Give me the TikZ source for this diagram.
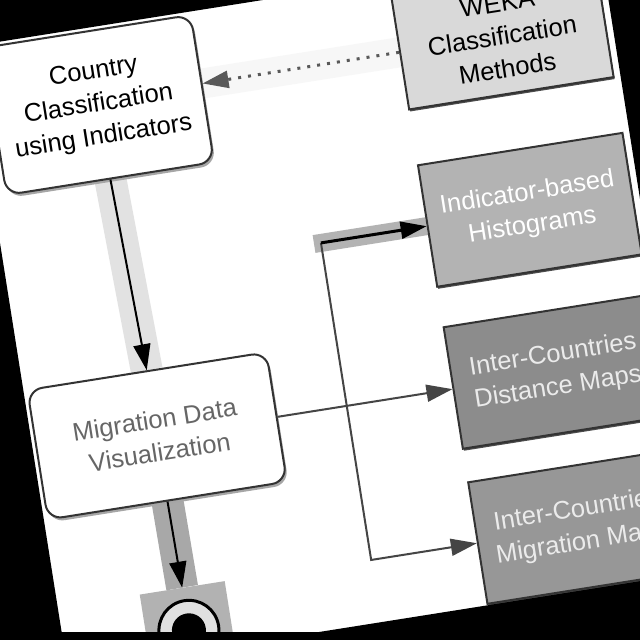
\documentclass[tikz,border=0pt]{standalone}
\usepackage{fontspec}
\setmainfont{Liberation Sans}
\usetikzlibrary{arrows.meta, calc, backgrounds, shadows}
\definecolor{boxline}{HTML}{333333}
\definecolor{flowgray}{HTML}{454545}
\definecolor{wekagray}{HTML}{D9D9D9}
\definecolor{histgray}{HTML}{B3B3B3}
\definecolor{distgray}{HTML}{8C8C8C}
\definecolor{mapgray}{HTML}{979797}
\definecolor{bandlight}{HTML}{E2E2E2}
\definecolor{banddark}{HTML}{A8A8A8}

\begin{document}
\begin{tikzpicture}[x=1pt, y=-1pt, font=\fontsize{25.5}{33}\selectfont,
    >={Triangle[length=26pt, width=17pt]},
    sbox/.style={rectangle, rounded corners=15pt, draw=boxline, line width=2pt,
      fill=white, align=center,
      drop shadow={shadow xshift=2pt, shadow yshift=-3pt, fill=black!35, opacity=1}},
    rbox/.style={rectangle, draw=boxline, line width=2pt, align=center,
      minimum width=207pt, minimum height=123pt,
      drop shadow={shadow xshift=1pt, shadow yshift=-2pt, fill=black!70, opacity=1}},
    flow/.style={line width=2pt, draw=flowgray},
    mainflow/.style={line width=2pt, draw=black},
    hiflow/.style={line width=3pt, draw=black},
    dotflow/.style={line width=3pt, draw=black!65, dash pattern=on 3pt off 7pt},
  ]
  \useasboundingbox (0,0) rectangle (640,640);
  \clip (0,0) rectangle (640,640);

  \begin{scope}[rotate around={9:(320,320)}, transform shape]
    \node[sbox, minimum width=210pt, minimum height=149pt] (cls) at (135,73)
      {Country\\Classification\\using Indicators};
    \node[sbox, minimum width=242pt, minimum height=131pt, text=black!60] (viz) at (141,409)
      {Migration Data\\Visualization};

    \node[rbox, fill=wekagray, minimum height=116pt] (weka) at (544.5,68) {WEKA\\Classification\\Methods};
    \node[rbox, fill=histgray, text=white] (hist) at (544.5,244) {Indicator-based\\Histograms};
    \node[rbox, fill=distgray, text=white!92!black] (dist) at (544.5,408) {Inter-Countries\\Distance Maps};
    \node[rbox, fill=mapgray, text=white!92!black] (mmap) at (544.5,565) {Inter-Countries\\Migration Maps};

    % final node
    \node[rectangle, fill=black!30, minimum size=86pt, inner sep=0pt] (endsq) at (142,606) {};
    \node[circle, draw=black, line width=3pt, fill=black!12, minimum size=60pt, inner sep=0pt] (endring) at (endsq.center) {};
    \node[circle, fill=black, minimum size=34pt, inner sep=0pt] (enddot) at (endring.center) {};

    \coordinate (fork) at ($(viz.east)+(70,0)$);

    \draw[->, dotflow] (weka.west) -- (weka.west -| cls.east);
    \draw[->, mainflow] (cls.south) -- (viz.north);
    \draw[->, mainflow] (viz.south) -- (endsq.north);
    \draw[->, flow] (viz.east) -- (viz.east -| dist.west);
    \draw[flow] (fork) -- (fork |- hist.west);
    \draw[->, hiflow] (fork |- hist.west) -- (hist.west);
    \draw[->, flow] (fork) |- (mmap.west);

    \begin{pgfonlayer}{background}
      \fill[white] (-300,-300) rectangle (950,950);
      \draw[line width=30pt, black!3] (weka.west) -- (weka.west -| cls.east);
      \draw[line width=32pt, bandlight] (cls.south) -- (viz.north);
      \draw[line width=32pt, banddark] (viz.south) -- (endsq.north);
      \draw[line width=18pt, histgray] ($(fork |- hist.west)+(-7,0)$) -- (hist.west);
    \end{pgfonlayer}

    % paper edge
    \fill[black, even odd rule] (-300,-300) rectangle (950,950) (16,-5) rectangle (655,628);
  \end{scope}
  \fill[black] (0,632) rectangle (640,640);
\end{tikzpicture}
\end{document}
